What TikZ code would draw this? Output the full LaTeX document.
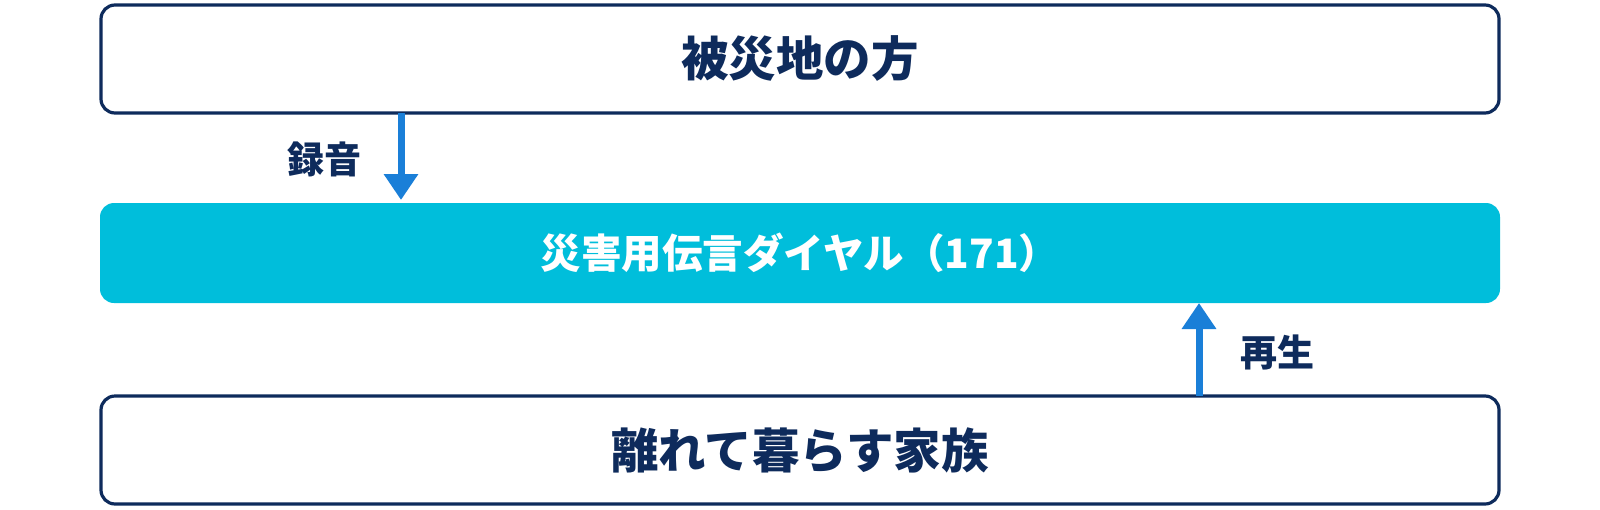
\documentclass[tikz,border=0pt]{standalone}
\usepackage{fontspec}
\newfontfamily\jp{Noto Sans CJK JP}
\usetikzlibrary{arrows.meta}
\definecolor{navy}{HTML}{0E2B5C}
\definecolor{cyanfill}{HTML}{00BEDB}
\definecolor{arrowblue}{HTML}{1A7FD8}
\tikzset{
  outlinebox/.style={draw=navy, line width=3.2pt, fill=white, rounded corners=14pt, minimum width=1398pt, minimum height=108pt, inner sep=0pt, outer sep=0pt, text=navy, font=\jp\bfseries\fontsize{47.5}{52}\selectfont},
  dialbox/.style={fill=cyanfill, rounded corners=14pt, minimum width=1400pt, minimum height=100pt, inner sep=0pt, outer sep=0pt, text=white, font=\jp\bfseries\fontsize{40.5}{46}\selectfont},
  lbl/.style={text=navy, inner sep=0pt, font=\jp\bfseries\fontsize{37}{42}\selectfont},
  flow/.style={draw=arrowblue, line width=7pt, -{Triangle[width=33pt,length=26pt]}}
}
\begin{document}
\begin{tikzpicture}[x=1pt,y=-1pt]
  \useasboundingbox (0,0) rectangle (1600,509);
  \node[outlinebox] (top) at (800,59) {被災地の方};
  \node[dialbox] (mid) at (800,253) {災害用伝言ダイヤル（171）};
  \node[outlinebox] (bot) at (800,450) {離れて暮らす家族};
  \coordinate (ax1) at (401,0);
  \coordinate (ax2) at (1199,0);
  \draw[flow, shorten >=3pt] (top.south -| ax1) -- (mid.north -| ax1);
  \draw[flow] (bot.north -| ax2) -- (mid.south -| ax2);
  \node[lbl] (rec) at (324,159) {録音};
  \node[lbl] (play) at (1277,352) {再生};
\end{tikzpicture}
\end{document}
